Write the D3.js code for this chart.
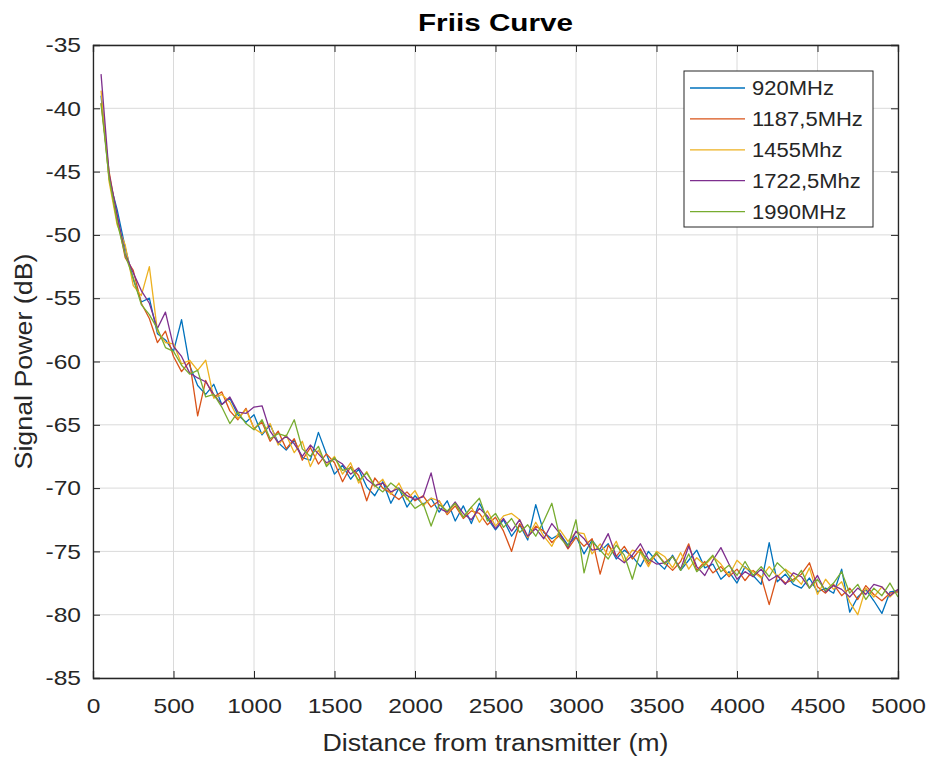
<!DOCTYPE html>
<html>
<head>
<meta charset="utf-8">
<script src="https://cdn.jsdelivr.net/npm/d3@7"></script>
<style>
  body { margin: 0; background: #fff; }
  svg text { font-family: "Liberation Sans", Arial, sans-serif; fill: #262626; }
</style>
</head>
<body>
<div id="chart"></div>
<script>
// friis curve, five carrier frequencies, received power vs distance

// distances: 50 m steps from 50 to 5000
var distances = [];
for (var i = 1; i <= 100; i++) distances.push(i * 50);

var seriesNames = ['920MHz', '1187,5MHz', '1455Mhz', '1722,5Mhz', '1990MHz'];
var seriesColors = ['#0072BD', '#D95319', '#EDB120', '#7E2F8E', '#77AC30'];

var xTicks = [0, 500, 1000, 1500, 2000, 2500, 3000, 3500, 4000, 4500, 5000];
var yTicks = [-35, -40, -45, -50, -55, -60, -65, -70, -75, -80, -85];

// values (dB)
var p920 = [
  -39.0, -45.6, -48.0, -51.0, -53.5, -55.3, -55.0, -57.8, -58.3, -59.2,
  -56.7, -60.3, -61.9, -62.6, -61.8, -63.4, -62.9, -64.2, -64.8, -64.2,
  -65.8, -65.0, -66.4, -67.0, -66.2, -67.6, -67.8, -65.6, -67.3, -68.9,
  -68.2, -69.3, -68.5, -69.9, -70.6, -69.5, -71.2, -70.0, -71.5, -70.6,
  -71.3, -70.8, -71.9, -71.0, -72.6, -71.4, -72.8, -71.2, -72.4, -73.3,
  -72.5, -73.8, -72.9, -74.1, -71.3, -73.5, -74.0, -73.6, -74.5, -73.8,
  -75.2, -74.1, -75.0, -74.4, -75.6, -74.9, -75.4, -76.2, -75.0, -75.8,
  -76.4, -75.3, -76.5, -75.7, -74.9, -76.3, -76.0, -77.2, -76.6, -77.5,
  -76.2, -76.9, -77.6, -74.3, -77.4, -76.8, -77.6, -77.9, -77.1, -78.2,
  -77.9, -78.3, -76.4, -79.8, -78.6, -78.0, -78.9, -79.9, -78.2, -78.1
];
var p1187 = [
  -39.6, -45.0, -48.6, -51.8, -52.8, -55.4, -56.6, -58.5, -57.6, -59.6,
  -60.8, -60.0, -64.3, -61.5, -62.8, -62.4, -63.9, -64.6, -63.7, -65.3,
  -64.8, -66.3, -65.5, -66.9, -66.1, -67.8, -66.8, -68.1, -67.3, -68.0,
  -69.5, -68.3, -69.0, -71.0, -69.2, -70.0, -70.4, -70.9, -70.3, -71.0,
  -70.6, -71.5, -71.0, -72.1, -71.4, -72.4, -71.8, -72.0, -72.9, -72.3,
  -73.4, -75.0, -72.8, -73.9, -73.0, -73.4, -74.3, -73.7, -74.8, -73.9,
  -74.6, -74.0, -76.8, -74.5, -75.4, -74.6, -75.6, -74.8, -76.0, -75.2,
  -75.9, -76.5, -75.8, -74.4, -76.5, -75.8, -76.7, -76.2, -77.0, -76.4,
  -77.3, -76.5, -77.0, -79.2, -76.9, -77.5, -77.2, -76.8, -75.9, -77.8,
  -78.3, -77.6, -78.5, -77.9, -78.8, -77.7, -78.4, -78.9, -78.3, -78.2
];
var p1455 = [
  -38.6, -45.8, -49.2, -50.8, -54.0, -54.8, -52.5, -57.6, -58.5, -58.6,
  -60.2, -59.9, -60.7, -59.9, -62.9, -62.6, -63.2, -64.5, -63.8, -65.3,
  -65.7, -64.9, -66.6, -65.8, -67.2, -66.3, -68.3, -67.0, -68.2, -67.5,
  -68.9, -68.0, -69.6, -68.7, -69.9, -69.3, -70.5, -69.6, -70.9, -70.2,
  -71.4, -70.8, -71.0, -72.0, -71.2, -72.3, -71.5, -72.7, -71.8, -73.0,
  -72.2, -72.0, -72.5, -73.9, -72.7, -73.8, -74.6, -73.3, -74.2, -73.5,
  -73.6, -75.2, -74.4, -75.3, -74.2, -75.8, -74.9, -75.1, -76.2, -75.0,
  -75.4, -76.3, -75.1, -76.4, -75.5, -76.1, -75.4, -76.0, -76.9, -75.7,
  -76.3, -76.6, -77.1, -76.2, -77.0, -76.4, -76.9, -77.6, -76.3, -78.4,
  -77.2, -78.0, -77.4, -79.0, -80.0, -77.9, -78.6, -77.8, -78.6, -78.0
];
var p1722 = [
  -37.3, -45.2, -48.4, -51.5, -53.0, -54.4, -55.4, -57.4, -56.1, -58.8,
  -59.6, -60.9, -61.3, -61.6, -62.6, -63.4, -62.8, -64.0, -64.1, -63.6,
  -63.5, -65.5, -66.4, -65.9, -66.5, -67.5, -66.6, -67.3, -68.0, -67.7,
  -68.1, -68.9, -68.4, -69.3, -69.8, -69.6, -70.3, -70.0, -70.6, -70.9,
  -70.7, -68.8, -71.6, -71.9, -71.1, -72.0, -72.5, -71.6, -72.2, -73.2,
  -72.4, -73.4, -72.5, -73.8, -73.2, -74.0, -72.8, -73.6, -74.7, -73.4,
  -74.0, -74.9, -74.8, -73.6, -75.4, -75.9, -75.3, -74.4, -75.6, -76.0,
  -75.9, -75.4, -76.4, -74.6, -76.2, -76.9, -75.7, -74.7, -76.0, -77.2,
  -76.6, -77.0, -76.4, -77.3, -76.9, -77.6, -76.7, -77.0, -77.9, -76.9,
  -78.2, -77.7, -78.0, -78.6, -77.9, -78.4, -77.6, -77.8, -78.5, -78.0
];
var p1990 = [
  -39.6, -45.5, -49.0, -51.6, -53.4, -55.5, -56.3, -57.4, -58.9, -59.2,
  -60.3, -61.0, -60.7, -62.8, -62.6, -63.6, -64.9, -64.0, -64.9, -65.4,
  -64.6, -66.1, -65.7, -65.9, -64.6, -66.9, -67.5, -66.7, -68.3, -67.6,
  -68.6, -68.4, -69.4, -68.8, -69.8, -70.3, -69.6, -70.1, -70.8, -71.6,
  -71.2, -73.0, -71.3, -71.8, -71.2, -72.3, -71.5, -70.8, -72.6, -72.0,
  -73.1, -72.4, -73.5, -72.9, -73.8, -72.6, -71.2, -73.9, -74.6, -72.5,
  -76.7, -74.2, -74.9, -75.6, -74.5, -75.3, -77.2, -75.0, -75.8, -75.1,
  -76.0, -75.4, -76.5, -75.2, -76.6, -76.0, -75.3, -76.6, -76.1, -76.9,
  -75.8, -76.9, -76.2, -77.0, -75.9, -76.5, -77.4, -76.5, -77.9, -77.2,
  -78.1, -77.5, -76.6, -78.3, -77.6, -78.8, -77.9, -78.5, -77.5, -78.6
];

var allSeries = [p920, p1187, p1455, p1722, p1990];

var W = 929, H = 758;
var margin = {top: 45, right: 31, bottom: 80, left: 93};
var plotW = W - margin.left - margin.right,
    plotH = H - margin.top - margin.bottom;

// the original renders glyphs wider than Liberation Sans, so stretch text a bit
function stretch(sel, f) {
  sel.each(function() {
    var w = this.getComputedTextLength();
    d3.select(this)
      .attr("textLength", w * f)
      .attr("lengthAdjust", "spacingAndGlyphs");
  });
}

var svg = d3.select("#chart").append("svg")
  .attr("width", W)
  .attr("height", H);

var g = svg.append("g")
  .attr("transform", "translate(" + margin.left + "," + margin.top + ")");

var x = d3.scaleLinear().domain([0, 5000]).range([0, plotW]);
var y = d3.scaleLinear().domain([-85, -35]).range([plotH, 0]);

// grid
g.append("g").selectAll("line").data(xTicks).enter().append("line")
  .attr("x1", function(d) { return x(d); })
  .attr("x2", function(d) { return x(d); })
  .attr("y1", 0).attr("y2", plotH)
  .style("stroke", "#dadada").style("stroke-width", 1);
g.append("g").selectAll("line").data(yTicks).enter().append("line")
  .attr("y1", function(d) { return y(d); })
  .attr("y2", function(d) { return y(d); })
  .attr("x1", 0).attr("x2", plotW)
  .style("stroke", "#dadada").style("stroke-width", 1);

// lines
var line = d3.line()
  .x(function(d, i) { return x(distances[i]); })
  .y(function(d) { return y(d); });

allSeries.forEach(function(s, i) {
  g.append("path")
    .datum(s)
    .attr("d", line)
    .style("fill", "none")
    .style("stroke", seriesColors[i])
    .style("stroke-width", 1.3)
    .style("stroke-linejoin", "round");
});

// axes, matlab style: ticks inward on all four sides
var tickLen = 7;
var plain = function(d) { return String(d); };
var xAxis = d3.axisBottom(x).tickValues(xTicks).tickSize(-tickLen).tickPadding(20).tickFormat(plain);
var yAxis = d3.axisLeft(y).tickValues(yTicks).tickSize(-tickLen).tickPadding(12).tickFormat(plain);

var gx = g.append("g").attr("transform", "translate(0," + plotH + ")").call(xAxis);
var gy = g.append("g").call(yAxis);
g.append("g").call(d3.axisTop(x).tickValues(xTicks).tickSize(-tickLen).tickFormat(""));
g.append("g").attr("transform", "translate(" + plotW + ",0)")
  .call(d3.axisRight(y).tickValues(yTicks).tickSize(-tickLen).tickFormat(""));

g.selectAll(".domain").style("stroke", "#262626").style("stroke-width", 1.3);
g.selectAll(".tick line").style("stroke", "#262626");
gx.attr("font-family", null); gy.attr("font-family", null);
gx.selectAll("text").style("font-size", "21px").style("fill", "#262626");
gy.selectAll("text").style("font-size", "21px").style("fill", "#262626");
stretch(gx.selectAll("text"), 1.17);
stretch(gy.selectAll("text"), 1.17);

// title and labels
svg.append("text")
  .attr("x", margin.left + plotW / 2).attr("y", 31)
  .attr("text-anchor", "middle")
  .style("font-size", "24px").style("font-weight", "bold")
  .style("fill", "#000")
  .text("Friis Curve")
  .attr("textLength", 155).attr("lengthAdjust", "spacingAndGlyphs");

svg.append("text")
  .attr("x", margin.left + plotW / 2).attr("y", 751)
  .attr("text-anchor", "middle")
  .style("font-size", "23px")
  .text("Distance from transmitter (m)")
  .attr("textLength", 346).attr("lengthAdjust", "spacingAndGlyphs");

svg.append("text")
  .attr("transform", "translate(32," + (margin.top + plotH / 2) + ") rotate(-90)")
  .attr("text-anchor", "middle")
  .style("font-size", "23px")
  .text("Signal Power (dB)")
  .attr("textLength", 216).attr("lengthAdjust", "spacingAndGlyphs");

// legend
var legend = svg.append("g").attr("transform", "translate(684,71)");
legend.append("rect")
  .attr("width", 189).attr("height", 156)
  .style("fill", "#fff").style("stroke", "#262626").style("stroke-width", 1);

var entry = legend.selectAll(".entry").data(seriesNames).enter().append("g")
  .attr("class", "entry")
  .attr("transform", function(d, i) { return "translate(0," + (17 + i * 30.9) + ")"; });
entry.append("line")
  .attr("x1", 6).attr("x2", 61)
  .style("stroke", function(d, i) { return seriesColors[i]; })
  .style("stroke-width", 1.3);
var legText = entry.append("text")
  .attr("x", 68).attr("dy", "0.36em")
  .style("font-size", "20px")
  .text(function(d) { return d; });
stretch(legText, 1.1);
</script>
</body>
</html>
